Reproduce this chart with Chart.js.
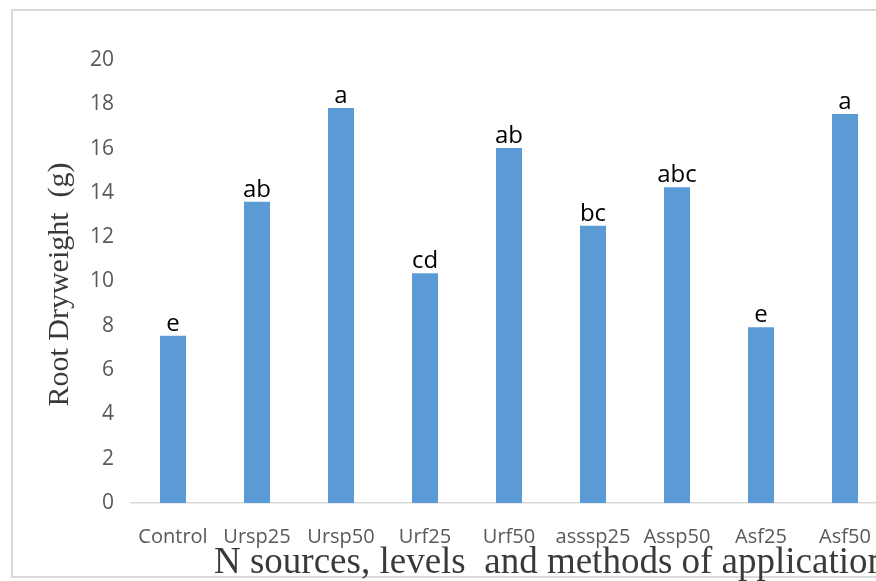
<!DOCTYPE html>
<html>
<head>
<meta charset="utf-8">
<script src="https://cdn.jsdelivr.net/npm/chart.js@4"></script>
<style>
  html, body { margin: 0; padding: 0; overflow: hidden; background: #fff; }
  #wrap { position: relative; width: 876px; height: 581px; overflow: hidden; }
  #frame { position: absolute; left: 11px; top: 9px; width: 900px; height: 569px;
           border: 2px solid #d9d9d9; box-sizing: border-box; }
  #box { position: absolute; left: 0; top: 0; width: 900px; height: 581px; }
</style>
</head>
<body>
<div id="wrap">
  <div id="frame"></div>
  <div id="box"><canvas id="chart"></canvas></div>
</div>
<script>
// ---- chart data ----
const categories = ['Control', 'Ursp25', 'Ursp50', 'Urf25', 'Urf50', 'asssp25', 'Assp50', 'Asf25', 'Asf50'];
const rootDryWeight = [7.55, 13.6, 17.83, 10.37, 16.03, 12.52, 14.25, 7.93, 17.56];
const letters = ['e', 'ab', 'a', 'cd', 'ab', 'bc', 'abc', 'e', 'a'];
const yTitle = 'Root Dryweight  (g)';
const xTitle = 'N sources, levels  and methods of application';

// draws significance letters above each bar
const letterLabels = {
    id: 'letterLabels',
    afterDatasetsDraw(chart) {
        const ctx = chart.ctx;
        const meta = chart.getDatasetMeta(0);
        ctx.save();
        ctx.font = '24px "Open Sans"';
        ctx.fillStyle = '#000';
        ctx.textAlign = 'center';
        ctx.textBaseline = 'alphabetic';
        meta.data.forEach((bar, i) => {
            ctx.fillText(letters[i], bar.x, bar.y - 5);
        });
        ctx.restore();
    }
};

// axis titles in serif, placed like the original
const axisTitles = {
    id: 'axisTitles',
    afterDraw(chart) {
        const ctx = chart.ctx;
        const area = chart.chartArea;
        ctx.save();
        ctx.fillStyle = '#3a3a3a';
        // y title
        ctx.font = '30px "Liberation Serif"';
        ctx.translate(68, (area.top + area.bottom) / 2 + 3);
        ctx.rotate(-Math.PI / 2);
        ctx.textAlign = 'center';
        ctx.textBaseline = 'alphabetic';
        ctx.fillText(yTitle, 0, 0);
        ctx.restore();
        // x title
        ctx.save();
        ctx.fillStyle = '#3a3a3a';
        ctx.font = '37px "Liberation Serif"';
        ctx.textAlign = 'left';
        ctx.textBaseline = 'alphabetic';
        ctx.fillText(xTitle, area.left + 83, 573);
        ctx.restore();
    }
};

new Chart(document.getElementById('chart'), {
    type: 'bar',
    data: {
        labels: categories,
        datasets: [{
            data: rootDryWeight,
            backgroundColor: '#5b9bd5',
            categoryPercentage: 0.62,
            barPercentage: 0.5
        }]
    },
    options: {
        responsive: true,
        maintainAspectRatio: false,
        animation: false,
        layout: { padding: { top: 60, right: 13, left: 0, bottom: 0 } },
        plugins: { legend: { display: false }, tooltip: { enabled: false } },
        scales: {
            x: {
                grid: { display: false },
                border: { display: true, color: '#d9d9d9', width: 1.5 },
                ticks: { color: '#595959', font: { family: 'Open Sans', size: 20 }, padding: 14, maxRotation: 0, autoSkip: false },
                afterFit(scale) { scale.height = 78; }
            },
            y: {
                min: 0,
                max: 20,
                grid: { display: false },
                border: { display: false },
                ticks: { stepSize: 2, color: '#595959', font: { family: 'Open Sans', size: 21 }, padding: 9 },
                afterFit(scale) { scale.width = 131; }
            }
        }
    },
    plugins: [letterLabels, axisTitles]
});
</script>
</body>
</html>
